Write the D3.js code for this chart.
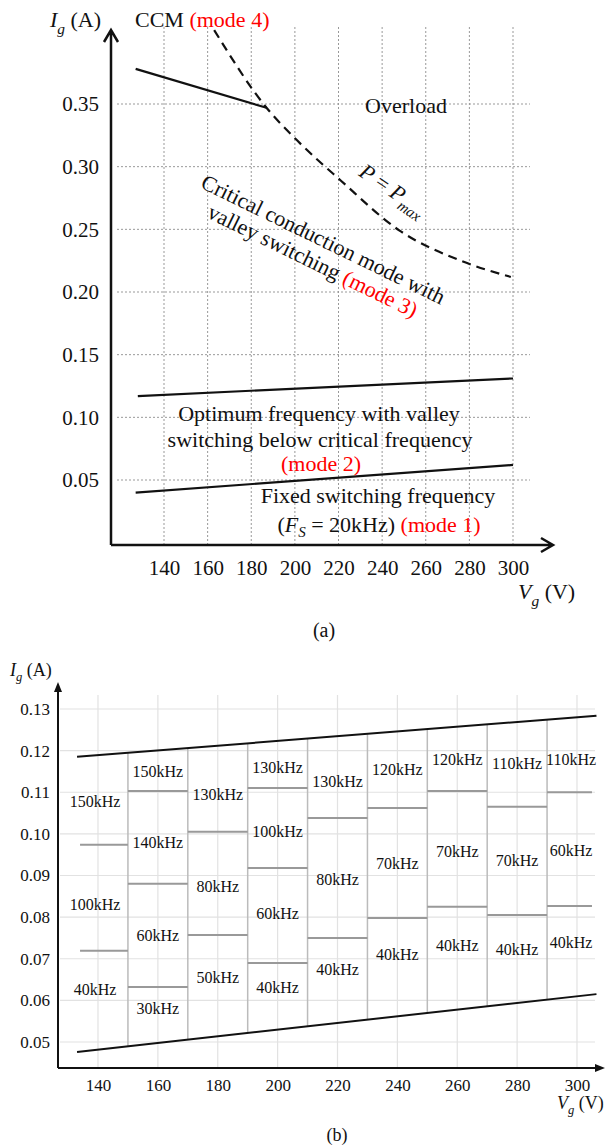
<!DOCTYPE html>
<html>
<head>
  <title>Operating modes</title>
  <style>
    body {
      background-color: white;
      margin: 0;
      padding: 0;
    }
    svg text {
      font-family: "Liberation Serif", "Times New Roman", serif;
      fill: #111;
    }
    .red { fill: #f00; }
    .it { font-style: italic; }
  </style>
</head>
<body>
  <div id="chart-container"></div>

  <script src="https://d3js.org/d3.v7.min.js"></script>
  <script>
    // ---- data, chart (a) ----
    const vgTicks = [140, 160, 180, 200, 220, 240, 260, 280, 300];
    const igTicksA = [0.05, 0.10, 0.15, 0.20, 0.25, 0.30, 0.35];
    const ccmLine = [[127, 0.378], [187, 0.347]];
    const pmaxCurve = [[163, 0.409], [187, 0.347], [201, 0.321], [221, 0.289], [248, 0.249], [276, 0.225], [299, 0.212]];
    const mode2Line = [[128, 0.117], [300, 0.131]];
    const mode1Line = [[127, 0.040], [300, 0.062]];

    // ---- data, chart (b) ----
    const igTicksB = [0.05, 0.06, 0.07, 0.08, 0.09, 0.10, 0.11, 0.12, 0.13];
    const upperLine = [[133, 0.1185], [306.5, 0.1284]];
    const lowerLine = [[133, 0.0476], [306.5, 0.0615]];
    const colEdges = [134, 150, 170, 190, 210, 230, 250, 270, 290, 305];
    const colLabelVg = [139, 160, 180, 200, 220, 240, 260, 280, 298];
    const colSplits = [
      [0.0719, 0.0974],
      [0.0632, 0.0880, 0.1103],
      [0.0757, 0.1005],
      [0.0690, 0.0918, 0.1110],
      [0.0750, 0.1038],
      [0.0798, 0.1062],
      [0.0825, 0.1103],
      [0.0805, 0.1065],
      [0.0827, 0.1100]
    ];
    const colFreqs = [
      ['40kHz', '100kHz', '150kHz'],
      ['30kHz', '60kHz', '140kHz', '150kHz'],
      ['50kHz', '80kHz', '130kHz'],
      ['40kHz', '60kHz', '100kHz', '130kHz'],
      ['40kHz', '80kHz', '130kHz'],
      ['40kHz', '70kHz', '120kHz'],
      ['40kHz', '70kHz', '120kHz'],
      ['40kHz', '70kHz', '110kHz'],
      ['40kHz', '60kHz', '110kHz']
    ];
    const colFreqIg = [
      [0.0627, 0.0830, 0.1077],
      [0.0580, 0.0757, 0.0980, 0.1150],
      [0.0656, 0.0873, 0.1096],
      [0.0630, 0.0810, 0.1007, 0.1160],
      [0.0675, 0.0890, 0.1127],
      [0.0710, 0.0930, 0.1156],
      [0.0733, 0.0957, 0.1178],
      [0.0723, 0.0937, 0.1170],
      [0.0740, 0.0960, 0.1180]
    ];

    const svg = d3.select('#chart-container').append('svg')
      .attr('width', 609)
      .attr('height', 1148);

    // subscripted label helper, e.g. I_g (A)
    function subLabel(g, x, y, size, main, sub, rest) {
      const t = g.append('text').attr('x', x).attr('y', y).style('font-size', size + 'px');
      t.append('tspan').attr('class', 'it').text(main);
      t.append('tspan').attr('class', 'it').attr('dy', size * 0.3)
        .style('font-size', (size * 0.7) + 'px').text(sub);
      t.append('tspan').attr('dy', -size * 0.3).text(rest);
      return t;
    }

    // ================= chart (a) =================
    const xA = d3.scaleLinear().domain([140, 300]).range([164, 513]);
    const yA = d3.scaleLinear().domain([0.05, 0.35]).range([480, 104]);
    const axA = { x: 111, y: 545, top: 30, right: 553 };
    const gA = svg.append('g');

    // grid
    gA.selectAll('.hgrid').data(igTicksA).enter().append('line')
      .attr('x1', 117).attr('x2', 530)
      .attr('y1', d => yA(d)).attr('y2', d => yA(d))
      .attr('stroke', '#999').attr('stroke-width', 1).attr('stroke-dasharray', '2,2');
    gA.selectAll('.vgrid').data(vgTicks).enter().append('line')
      .attr('x1', d => xA(d)).attr('x2', d => xA(d))
      .attr('y1', 27).attr('y2', axA.y)
      .attr('stroke', '#999').attr('stroke-width', 1).attr('stroke-dasharray', '2,2');

    // axes
    gA.append('g').attr('transform', `translate(0,${axA.y})`)
      .call(d3.axisBottom(xA).tickValues(vgTicks).tickSize(0).tickPadding(15).tickFormat(d3.format('d')))
      .call(g => g.select('.domain').remove())
      .selectAll('text').style('font-size', '21px').style('font-family', '"Liberation Serif", serif').attr('fill', '#111');
    gA.append('g').attr('transform', `translate(${axA.x},0)`)
      .call(d3.axisLeft(yA).tickValues(igTicksA).tickSize(0).tickPadding(12).tickFormat(d3.format('.2f')))
      .call(g => g.select('.domain').remove())
      .selectAll('text').style('font-size', '21px').style('font-family', '"Liberation Serif", serif').attr('fill', '#111');

    gA.append('path')
      .attr('d', `M${axA.x},${axA.y}V${axA.top}M${axA.x - 7},${axA.top + 12}L${axA.x},${axA.top}L${axA.x + 7},${axA.top + 12}`)
      .attr('fill', 'none').attr('stroke', '#111').attr('stroke-width', 2.5);
    gA.append('path')
      .attr('d', `M${axA.x},${axA.y}H${axA.right}M${axA.right - 12},${axA.y - 7}L${axA.right},${axA.y}L${axA.right - 12},${axA.y + 7}`)
      .attr('fill', 'none').attr('stroke', '#111').attr('stroke-width', 2.5);

    // boundary lines
    const lineA = d3.line().x(d => xA(d[0])).y(d => yA(d[1]));
    [ccmLine, mode2Line, mode1Line].forEach(pts => {
      gA.append('path').attr('d', lineA(pts))
        .attr('fill', 'none').attr('stroke', '#111').attr('stroke-width', 2.2);
    });
    gA.append('path').attr('d', lineA.curve(d3.curveMonotoneX)(pmaxCurve))
      .attr('fill', 'none').attr('stroke', '#111').attr('stroke-width', 2.2)
      .attr('stroke-dasharray', '9,6');

    // labels
    subLabel(gA, 50, 27, 22, 'I', 'g', ' (A)');
    subLabel(gA, 518, 599, 22, 'V', 'g', ' (V)');
    gA.append('text').attr('x', 324).attr('y', 637).attr('text-anchor', 'middle')
      .style('font-size', '20px').text('(a)');

    const ccm = gA.append('text').attr('x', 135).attr('y', 27).style('font-size', '22px');
    ccm.append('tspan').text('CCM ');
    ccm.append('tspan').attr('class', 'red').text('(mode 4)');

    gA.append('text').attr('x', 406).attr('y', 113).attr('text-anchor', 'middle')
      .style('font-size', '22px').text('Overload');

    const pm = gA.append('text').attr('transform', 'translate(389,196) rotate(34)')
      .attr('text-anchor', 'middle').style('font-size', '22px');
    pm.append('tspan').attr('class', 'it').text('P');
    pm.append('tspan').text(' = ');
    pm.append('tspan').attr('class', 'it').text('P');
    pm.append('tspan').attr('class', 'it').attr('dy', 6).style('font-size', '15px').text('max');

    const crit = gA.append('g').attr('transform', 'translate(320,246) rotate(26)');
    crit.append('text').attr('text-anchor', 'middle').style('font-size', '22px')
      .text('Critical conduction mode with');
    const c2 = crit.append('text').attr('y', 24).attr('text-anchor', 'middle').style('font-size', '22px');
    c2.append('tspan').text('valley switching ');
    c2.append('tspan').attr('class', 'red').text('(mode 3)');

    gA.append('text').attr('x', 319).attr('y', 421).attr('text-anchor', 'middle')
      .style('font-size', '22px').text('Optimum frequency with valley');
    gA.append('text').attr('x', 320).attr('y', 447).attr('text-anchor', 'middle')
      .style('font-size', '22px').text('switching below critical frequency');
    gA.append('text').attr('x', 321).attr('y', 471).attr('text-anchor', 'middle')
      .attr('class', 'red').style('font-size', '22px').text('(mode 2)');

    gA.append('text').attr('x', 378).attr('y', 503).attr('text-anchor', 'middle')
      .style('font-size', '22px').text('Fixed switching frequency');
    const fs = gA.append('text').attr('x', 379).attr('y', 532).attr('text-anchor', 'middle')
      .style('font-size', '22px');
    fs.append('tspan').text('(');
    fs.append('tspan').attr('class', 'it').text('F');
    fs.append('tspan').attr('class', 'it').attr('dy', 5).style('font-size', '15px').text('S');
    fs.append('tspan').attr('dy', -5).text(' = 20kHz) ');
    fs.append('tspan').attr('class', 'red').text('(mode 1)');

    // ================= chart (b) =================
    const xB = d3.scaleLinear().domain([140, 300]).range([98, 577]);
    const yB = d3.scaleLinear().domain([0.05, 0.13]).range([1042, 709]);
    const axB = { x: 58, y: 1068, top: 682, right: 605 };
    const gB = svg.append('g');

    gB.selectAll('.hgrid').data(igTicksB).enter().append('line')
      .attr('x1', 60).attr('x2', 595)
      .attr('y1', d => yB(d)).attr('y2', d => yB(d))
      .attr('stroke', '#e2e2e2').attr('stroke-width', 1.2);
    gB.selectAll('.vgrid').data(vgTicks).enter().append('line')
      .attr('x1', d => xB(d)).attr('x2', d => xB(d))
      .attr('y1', 695).attr('y2', axB.y)
      .attr('stroke', '#e2e2e2').attr('stroke-width', 1.2);

    gB.append('g').attr('transform', `translate(0,${axB.y})`)
      .call(d3.axisBottom(xB).tickValues(vgTicks).tickSize(0).tickPadding(11).tickFormat(d3.format('d')))
      .call(g => g.select('.domain').remove())
      .selectAll('text').style('font-size', '17px').style('font-family', '"Liberation Serif", serif').attr('fill', '#111');
    gB.append('g').attr('transform', `translate(${axB.x},0)`)
      .call(d3.axisLeft(yB).tickValues(igTicksB).tickSize(0).tickPadding(8).tickFormat(d3.format('.2f')))
      .call(g => g.select('.domain').remove())
      .selectAll('text').style('font-size', '17px').style('font-family', '"Liberation Serif", serif').attr('fill', '#111');

    gB.append('path').attr('d', `M${axB.x},${axB.y}V${axB.top + 8}`)
      .attr('stroke', '#111').attr('stroke-width', 2);
    gB.append('path').attr('d', `M${axB.x - 4},${axB.top + 10}L${axB.x},${axB.top}L${axB.x + 4},${axB.top + 10}Z`)
      .attr('fill', '#111');
    gB.append('path').attr('d', `M${axB.x},${axB.y}H${axB.right - 8}`)
      .attr('stroke', '#111').attr('stroke-width', 2);
    gB.append('path').attr('d', `M${axB.right - 10},${axB.y - 4}L${axB.right},${axB.y}L${axB.right - 10},${axB.y + 4}Z`)
      .attr('fill', '#111');

    // band edges: interpolate limits at a given Vg
    function interp(pts, v) {
      const s = d3.scaleLinear().domain([pts[0][0], pts[1][0]]).range([pts[0][1], pts[1][1]]);
      return s(v);
    }

    // column dividers
    const dividers = colEdges.slice(1, -1);
    gB.selectAll('.divider').data(dividers).enter().append('line')
      .attr('x1', d => xB(d)).attr('x2', d => xB(d))
      .attr('y1', d => yB(interp(lowerLine, d))).attr('y2', d => yB(interp(upperLine, d)))
      .attr('stroke', '#bbb').attr('stroke-width', 1.5);

    // frequency splits
    colSplits.forEach((splits, i) => {
      gB.selectAll('.split' + i).data(splits).enter().append('line')
        .attr('x1', xB(colEdges[i])).attr('x2', xB(colEdges[i + 1]))
        .attr('y1', d => yB(d)).attr('y2', d => yB(d))
        .attr('stroke', '#999').attr('stroke-width', 2);
    });

    // frequency labels
    colFreqs.forEach((names, i) => {
      gB.selectAll('.freq' + i).data(names).enter().append('text')
        .attr('x', xB(colLabelVg[i]))
        .attr('y', (d, j) => yB(colFreqIg[i][j]))
        .attr('dy', '0.35em')
        .attr('text-anchor', 'middle')
        .style('font-size', '16px')
        .attr('fill', '#222')
        .text(d => d);
    });

    const lineB = d3.line().x(d => xB(d[0])).y(d => yB(d[1]));
    [upperLine, lowerLine].forEach(pts => {
      gB.append('path').attr('d', lineB(pts))
        .attr('fill', 'none').attr('stroke', '#111').attr('stroke-width', 2);
    });

    subLabel(gB, 10, 676, 18, 'I', 'g', ' (A)');
    subLabel(gB, 557, 1109, 18, 'V', 'g', ' (V)');
    gB.append('text').attr('x', 337).attr('y', 1141).attr('text-anchor', 'middle')
      .style('font-size', '18px').text('(b)');
  </script>
</body>
</html>
